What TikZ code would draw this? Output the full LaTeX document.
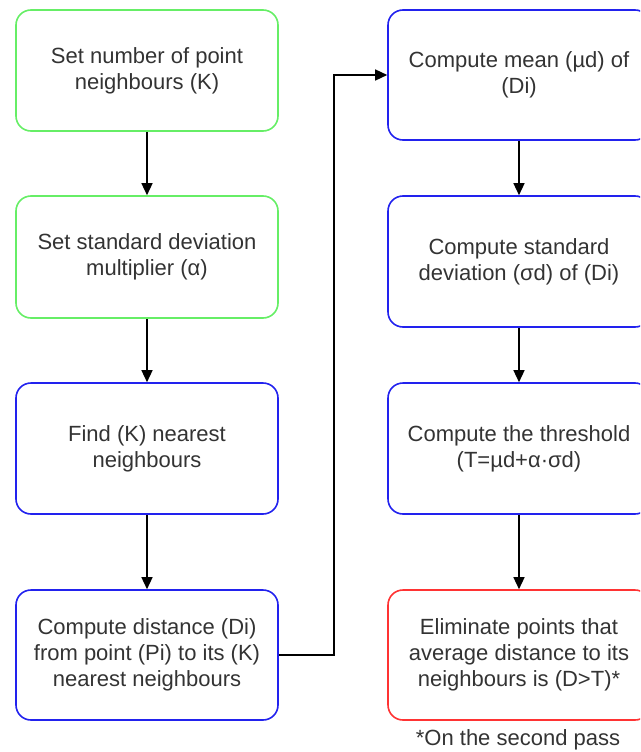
\documentclass[tikz,border=0pt]{standalone}
\usepackage{fontspec}
\setmainfont{Liberation Sans}
\usetikzlibrary{arrows.meta}
\definecolor{gline}{HTML}{66EE66}
\definecolor{bline}{HTML}{2222EE}
\definecolor{rline}{HTML}{FF3333}
\definecolor{txt}{HTML}{333333}
\begin{document}
\begin{tikzpicture}[x=1pt,y=-1pt,
  box/.style={draw, rounded corners=15pt, line width=1.6pt, align=center,
    font=\fontsize{22}{26}\selectfont, text=txt, inner sep=0pt,
    minimum width=262pt},
  gbox/.style={box, draw=gline},
  bbox/.style={box, draw=bline},
  rbox/.style={box, draw=rline},
  arr/.style={-{Triangle[length=12pt,width=11pt]}, line width=1.4pt, black}]
\useasboundingbox (0,0) rectangle (640,752);
\clip (0,0) rectangle (640,752);
% left column
\node[gbox, minimum height=121pt] (a1) at (147,70.5) {Set number of point\\neighbours (K)};
\node[gbox, minimum height=122pt] (a2) at (147,257) {Set standard deviation\\multiplier (α)};
\node[bbox, minimum height=131pt] (a3) at (147,448.5) {Find (K) nearest\\neighbours};
\node[bbox, minimum height=130pt] (a4) at (147,655) {Compute distance (Di)\\from point (Pi) to its (K)\\nearest neighbours};
% right column
\node[bbox, minimum height=130pt] (b1) at (519,75) {Compute mean (µd) of\\(Di)};
\node[bbox, minimum height=131pt] (b2) at (519,261.5) {Compute standard\\deviation (σd) of (Di)};
\node[bbox, minimum height=131pt] (b3) at (519,448.5) {Compute the threshold\\(T=µd+α·σd)};
\node[rbox, minimum height=130pt] (b4) at (519,655) {Eliminate points that\\average distance to its\\neighbours is (D>T)*};
\node[font=\fontsize{22}{26}\selectfont, text=txt, inner sep=0pt] (note) at (518,740) {*On the second pass};
% connectors
\draw[arr] (a1) -- (a2);
\draw[arr] (a2) -- (a3);
\draw[arr] (a3) -- (a4);
\draw[arr] (b1) -- (b2);
\draw[arr] (b2) -- (b3);
\draw[arr] (b3) -- (b4);
\coordinate (bend) at (334,655);
\draw[arr] (a4.east) -- (bend) |- (b1.west);
\end{tikzpicture}
\end{document}
